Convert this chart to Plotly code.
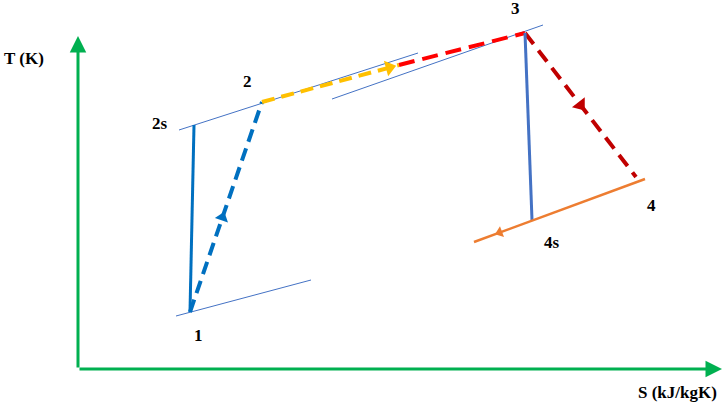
import numpy as np
import plotly.graph_objects as go

# state points of the cycle (s, T) in drawing units
state_names = ["1", "2s", "2", "3", "4s", "4"]
state_s = [190, 194, 262, 525, 532, 636]
state_T = [93, 280, 303, 372, 185, 228]

# point where the heat addition line changes colour
mid_s, mid_T = 399, 340

# constant pressure lines (thin blue)
isobar_s = [[176, 311], [179, 418], [332, 543]]
isobar_T = [[89, 125], [275, 352], [306, 380]]

# heat rejection line 4 -> (beyond 4s)
reject_s = [645, 474]
reject_T = [226, 163]

P = dict(zip(state_names, zip(state_s, state_T)))

Colors = dict(
  axis='#00B050',
  isobar='#4472C4',
  comp='#0070C0',
  turb='#4472C4',
  heat1='#FFC000',
  heat2='#FF0000',
  exp='#C00000',
  reject='#ED7D31',
)

fig = go.Figure()

def seg(p, q, color, width, dash='solid'):
  fig.add_trace(go.Scatter(x=[p[0], q[0]], y=[p[1], q[1]], mode='lines',
                           line=dict(color=color, width=width, dash=dash), hoverinfo='skip'))

def arrow(p, q, t, color, size):
  x = p[0] + t*(q[0]-p[0]); y = p[1] + t*(q[1]-p[1])
  ang = np.degrees(np.arctan2(q[0]-p[0], q[1]-p[1]))
  fig.add_trace(go.Scatter(x=[x], y=[y], mode='markers', hoverinfo='skip',
                           marker=dict(symbol='triangle-up', size=size, angle=ang, color=color,
                                       line=dict(width=0))))

# isobars
for xs, ys in zip(isobar_s, isobar_T):
  seg((xs[0], ys[0]), (xs[1], ys[1]), Colors['isobar'], 1)

# processes
dash = '13px,7px'
seg(P['1'], P['2s'], Colors['comp'], 3)
seg(P['1'], P['2'], Colors['comp'], 4, dash)
seg(P['2'], (mid_s, mid_T), Colors['heat1'], 4, dash)
seg((mid_s, mid_T), P['3'], Colors['heat2'], 4, '16px,8px')
seg(P['3'], P['4'], Colors['exp'], 4, '14px,8px')
seg(P['3'], P['4s'], Colors['turb'], 3)
r0, r1 = (reject_s[0], reject_T[0]), (reject_s[1], reject_T[1])
seg(r0, r1, Colors['reject'], 2.5)

arrow(P['1'], P['2'], 0.45, Colors['comp'], 12)
arrow(P['2'], (mid_s, mid_T), 0.93, Colors['heat1'], 14)
arrow(P['3'], P['4'], 0.5, Colors['exp'], 14)
arrow(r0, r1, 0.85, Colors['reject'], 10)

# axes with arrow heads
origin = (78, 36)
for tip in [(78, 369), (722, 36)]:
  fig.add_annotation(x=tip[0], y=tip[1], ax=origin[0], ay=origin[1], xref='x', yref='y',
                     axref='x', ayref='y', showarrow=True, arrowhead=2, arrowsize=1.1,
                     arrowwidth=3, arrowcolor=Colors['axis'], text='')

# labels
label_pos = {'1': (198, 70), '2s': (160, 282), '2': (247, 324), '3': (515, 397),
             '4s': (552, 163), '4': (651, 200)}
texts = list(label_pos.items()) + [('T (K)', (24, 347)), ('S (kJ/kgK)', (677, 13))]
for txt, (x, y) in texts:
  fig.add_annotation(x=x, y=y, xref='x', yref='y', text='<b>%s</b>' % txt, showarrow=False,
                     font=dict(family='Liberation Serif', size=17, color='black'))

fig.update_layout(
  width=724, height=405, margin=dict(l=0, r=0, t=0, b=0),
  paper_bgcolor='white', plot_bgcolor='white', showlegend=False,
  xaxis=dict(range=[0, 724], visible=False, fixedrange=True),
  yaxis=dict(range=[0, 405], visible=False, fixedrange=True),
)
fig.write_html("out.html", config=dict(displayModeBar=False),
               post_script="document.body.style.margin='0';")
